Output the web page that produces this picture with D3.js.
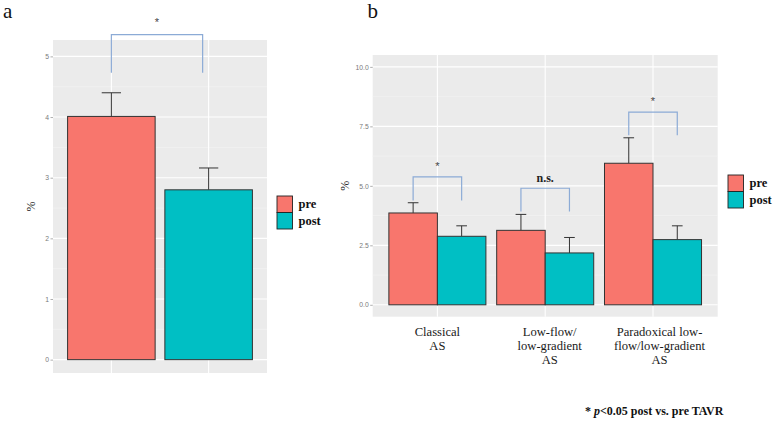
<!DOCTYPE html>
<html>
<head>
<meta charset="utf-8">
<script src="https://cdn.jsdelivr.net/npm/d3@7"></script>
<style>
  body { margin: 0; background: #fff; }
  svg { display: block; }
  .serif { font-family: "Liberation Serif", "Times New Roman", Tinos, "DejaVu Serif", serif; }
  .sans { font-family: "Liberation Sans", Arial, sans-serif; }
</style>
</head>
<body>
<svg id="chart" width="773" height="421"></svg>
<script>
// ---------- data ----------
const seriesNames = ["pre", "post"];
const seriesColors = ["#F8766D", "#00BFC4"];

// panel a
const valuesA = [4.01, 2.80];
const errUpperA = [4.40, 3.16];
const ticksA = [0, 1, 2, 3, 4, 5];
const bracketA = { y: 5.36, legEnd: 4.73, label: "*" };

// panel b
const groupsB = ["Classical AS", "Low-flow/low-gradient AS", "Paradoxical low-flow/low-gradient AS"];
const groupLabelLines = [["Classical", "AS"], ["Low-flow/", "low-gradient", "AS"], ["Paradoxical low-", "flow/low-gradient", "AS"]];
const preB = [3.86, 3.13, 5.95];
const postB = [2.88, 2.18, 2.74];
const preErrUpperB = [4.29, 3.80, 7.02];
const postErrUpperB = [3.32, 2.83, 3.32];
const ticksB = [0, 2.5, 5, 7.5, 10];
const bracketYB = [5.38, 4.90, 8.10];
const bracketLegB = [4.38, 3.92, 7.13];
const bracketLabelsB = ["*", "n.s.", "*"];

// ---------- drawing ----------
const svg = d3.select("#chart");
const PANEL = "#EBEBEB", BRK = "#8CABD6", ERR = "#333333", TICK = "#7a7a7a";

function drawPanel(g, x0, x1, y0, y1, y, ticks, minor, xCenters) {
  g.append("rect").attr("x", x0).attr("y", y0).attr("width", x1 - x0).attr("height", y1 - y0).attr("fill", PANEL);
  minor.forEach(v => g.append("line").attr("x1", x0).attr("x2", x1).attr("y1", y(v)).attr("y2", y(v))
    .attr("stroke", "#F5F5F5").attr("stroke-width", 0.6));
  ticks.forEach(v => g.append("line").attr("x1", x0).attr("x2", x1).attr("y1", y(v)).attr("y2", y(v))
    .attr("stroke", "#FFFFFF").attr("stroke-width", 1.1));
  xCenters.forEach(cx => g.append("line").attr("x1", cx).attr("x2", cx).attr("y1", y0).attr("y2", y1)
    .attr("stroke", "#FFFFFF").attr("stroke-width", 1.1));
  const axis = d3.axisLeft(y).tickValues(ticks).tickSize(2.5).tickPadding(1.5)
    .tickFormat(ticks.some(t => t % 1) ? d3.format(".1f") : d3.format("d"));
  const ax = g.append("g").attr("transform", `translate(${x0},0)`).call(axis);
  ax.attr("font-family", null).attr("font-size", null);
  ax.select(".domain").remove();
  ax.selectAll(".tick line").attr("stroke", TICK).attr("stroke-width", 0.6);
  ax.selectAll(".tick text").attr("fill", TICK).attr("class", "sans").style("font-size", "6.8px");
}

function errBar(g, cx, yTop, yBase, capW) {
  g.append("line").attr("x1", cx).attr("x2", cx).attr("y1", yTop).attr("y2", yBase).attr("stroke", ERR).attr("stroke-width", 1);
  g.append("line").attr("x1", cx - capW / 2).attr("x2", cx + capW / 2).attr("y1", yTop).attr("y2", yTop).attr("stroke", ERR).attr("stroke-width", 1);
}

function bracket(g, xl, xr, yTop, yLegL, yLegR) {
  g.append("path").attr("d", `M${xl},${yLegL}V${yTop}H${xr}V${yLegR}`)
    .attr("fill", "none").attr("stroke", BRK).attr("stroke-width", 1.2);
}

function star(g, x, yc) {
  g.append("text").attr("x", x).attr("y", yc + 5.5).attr("text-anchor", "middle").attr("class", "sans")
    .style("font-size", "11px").attr("fill", "#444").text("*");
}

function legend(g, x, y) {
  seriesNames.forEach((s, i) => {
    g.append("rect").attr("x", x).attr("y", y + i * 16.5).attr("width", 15.5).attr("height", 16.5)
      .attr("fill", seriesColors[i]).attr("stroke", "#222").attr("stroke-width", 0.9);
    g.append("text").attr("x", x + 21.5).attr("y", y + i * 16.5 + 12).attr("class", "serif")
      .style("font-size", "12.5px").style("font-weight", "bold").attr("fill", "#111").text(s);
  });
}

// ----- panel a -----
{
  const g = svg.append("g");
  const x0 = 53, x1 = 267, y0 = 40, y1 = 373;
  const y = d3.scaleLinear().domain([-0.22, 5.27]).range([y1, y0]);
  const x = d3.scaleBand().domain(seriesNames).range([x0, x1]).paddingInner(0.1).paddingOuter(0.15);
  const centers = seriesNames.map(s => x(s) + x.bandwidth() / 2);
  drawPanel(g, x0, x1, y0, y1, y, ticksA, [0.5, 1.5, 2.5, 3.5, 4.5], centers);
  seriesNames.forEach((s, i) => {
    errBar(g, centers[i], y(errUpperA[i]), y(valuesA[i]), x.bandwidth() * 0.22);
  });
  g.selectAll(".barA").data(valuesA).join("rect")
    .attr("x", (d, i) => x(seriesNames[i])).attr("width", x.bandwidth())
    .attr("y", d => y(d)).attr("height", d => y(0) - y(d))
    .attr("fill", (d, i) => seriesColors[i]).attr("stroke", "#333").attr("stroke-width", 1);
  bracket(g, centers[0], centers[1] - 6, y(bracketA.y), y(bracketA.legEnd), y(bracketA.legEnd));
  star(g, (centers[0] + centers[1] - 6) / 2, 20);
  g.append("text").attr("transform", `translate(35,${(y0 + y1) / 2}) rotate(-90)`).attr("text-anchor", "middle")
    .attr("class", "serif").style("font-size", "12px").attr("fill", "#222").text("%");
  legend(g, 277, 196);
  g.append("text").attr("x", 3).attr("y", 17.5).attr("class", "serif").style("font-size", "21px").attr("fill", "#111").text("a");
}

// ----- panel b -----
{
  const g = svg.append("g");
  const x0 = 372.7, x1 = 717.7, y0 = 55, y1 = 316.7;
  const y = d3.scaleLinear().domain([-0.5, 10.5]).range([y1, y0]);
  const x = d3.scaleBand().domain(groupsB).range([x0, x1]).paddingInner(0.1).paddingOuter(0.15);
  const xs = d3.scaleBand().domain(seriesNames).range([0, x.bandwidth()]);
  const centers = groupsB.map(c => x(c) + x.bandwidth() / 2);
  drawPanel(g, x0, x1, y0, y1, y, ticksB, [1.25, 3.75, 6.25, 8.75], centers);
  const vals = [preB, postB], errs = [preErrUpperB, postErrUpperB];
  groupsB.forEach((c, gi) => {
    seriesNames.forEach((s, si) => {
      const cx = x(c) + xs(s) + xs.bandwidth() / 2;
      errBar(g, cx, y(errs[si][gi]), y(vals[si][gi]), xs.bandwidth() * 0.22);
    });
  });
  groupsB.forEach((c, gi) => {
    seriesNames.forEach((s, si) => {
      g.append("rect").attr("x", x(c) + xs(s)).attr("width", xs.bandwidth())
        .attr("y", y(vals[si][gi])).attr("height", y(0) - y(vals[si][gi]))
        .attr("fill", seriesColors[si]).attr("stroke", "#333").attr("stroke-width", 1);
    });
    const xl = x(c) + xs("pre") + xs.bandwidth() / 2, xr = x(c) + xs("post") + xs.bandwidth() / 2;
    bracket(g, xl, xr, y(bracketYB[gi]), y(bracketLegB[gi]), y(bracketLegB[gi]));
    const lab = bracketLabelsB[gi];
    if (lab === "*") star(g, centers[gi], y(bracketYB[gi]) - 12.5);
    else g.append("text").attr("x", centers[gi]).attr("y", y(bracketYB[gi]) - 6).attr("text-anchor", "middle")
      .attr("class", "serif").style("font-size", "12px").style("font-weight", "bold").attr("fill", "#222").text(lab);
  });
  // category labels
  const labelShift = [0, 4.5, 6.5];
  groupLabelLines.forEach((lines, gi) => {
    const t = g.append("text").attr("text-anchor", "middle").attr("class", "serif")
      .style("font-size", "12.6px").attr("fill", "#1a1a1a");
    lines.forEach((ln, li) => t.append("tspan").attr("x", centers[gi] + labelShift[gi]).attr("y", 335.5 + li * 14.2).text(ln));
  });
  g.append("text").attr("transform", `translate(349,${(y0 + y1) / 2}) rotate(-90)`).attr("text-anchor", "middle")
    .attr("class", "serif").style("font-size", "12px").attr("fill", "#222").text("%");
  legend(g, 728, 175);
  g.append("text").attr("x", 367.5).attr("y", 17.5).attr("class", "serif").style("font-size", "21px").attr("fill", "#111").text("b");
  // footnote
  const f = svg.append("text").attr("x", 585).attr("y", 415).attr("class", "serif").style("font-size", "12px")
    .style("font-weight", "bold").attr("fill", "#111");
  f.append("tspan").text("* ");
  f.append("tspan").style("font-style", "italic").text("p");
  f.append("tspan").text("<0.05 post vs. pre TAVR");
}
</script>
</body>
</html>
